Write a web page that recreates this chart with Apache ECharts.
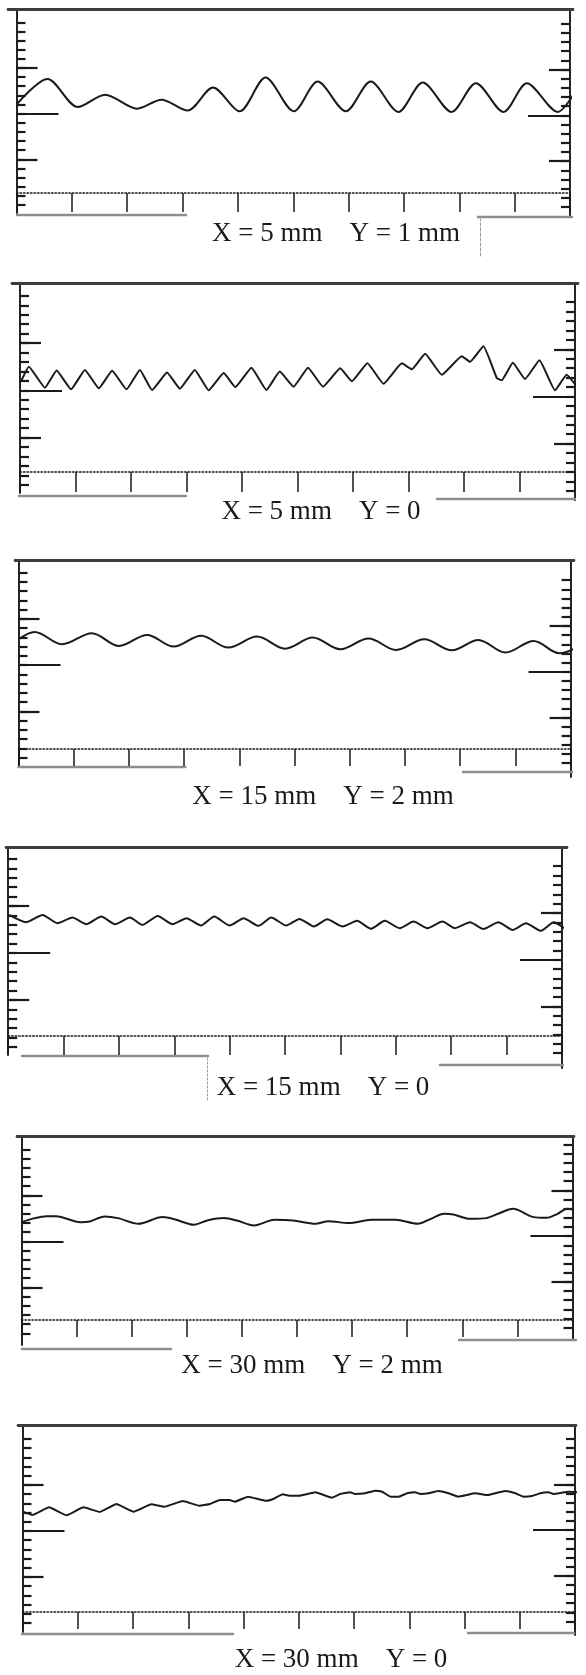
<!DOCTYPE html>
<html>
<head>
<meta charset="utf-8">
<script src="https://cdn.jsdelivr.net/npm/echarts@6/dist/echarts.min.js"></script>
<style>
html,body{margin:0;padding:0;background:#ffffff;}
#chart{width:586px;height:1675px;}
</style>
</head>
<body>
<div id="chart"></div>
<script>
// ---------------- data ----------------
// x in chart divisions (0..10 between the two frame lines), y in small-tick units (0 = long middle tick)
const labels = [
  "X = 5 mm    Y = 1 mm",
  "X = 5 mm    Y = 0",
  "X = 15 mm    Y = 2 mm",
  "X = 15 mm    Y = 0",
  "X = 30 mm    Y = 2 mm",
  "X = 30 mm    Y = 0"
];
const yTicks = [-10,-9,-8,-7,-6,-5,-4,-3,-2,-1,0,1,2,3,4,5,6,7,8,9,10];
const xTicks = [0,1,2,3,4,5,6,7,8,9,10];

const prof1X = [0,0.56,1.11,1.60,2.18,2.62,3.09,3.55,4.03,4.50,5.01,5.44,5.95,6.40,6.90,7.34,7.86,8.30,8.80,9.22,9.78,10.08];
const prof1Y = [0.98,3.80,0.72,2.07,0.54,1.52,0.33,2.86,0.25,3.95,0.25,3.51,0.25,3.51,0.18,3.41,0.18,3.33,0.18,3.33,0.18,2.25];

const prof2X = [0.02,0.16,0.45,0.66,0.92,1.17,1.42,1.66,1.92,2.16,2.38,2.65,2.88,3.15,3.40,3.67,3.88,4.17,4.44,4.68,4.93,5.19,5.46,5.77,5.98,6.26,6.55,6.88,7.06,7.30,7.60,7.96,8.11,8.35,8.59,8.68,8.88,9.10,9.36,9.64,9.85,10.06];
const prof2Y = [0.96,2.50,0.28,2.09,0.10,2.16,0.21,2.06,0.10,2.16,0.03,1.88,0.17,2.16,0.00,1.82,0.34,2.39,0.03,1.98,0.38,2.39,0.38,2.33,0.96,2.85,0.69,2.85,2.23,3.87,1.64,3.60,3.01,4.66,1.31,1.06,2.91,1.20,3.19,0.00,1.64,0.17];

const prof3X = [0.02,0.29,0.79,1.33,1.82,2.33,2.81,3.31,3.80,4.32,4.83,5.33,5.83,6.34,6.84,7.35,7.85,8.33,8.82,9.33,9.80,10.07];
const prof3Y = [2.86,3.58,2.24,3.44,2.06,3.25,1.99,3.15,1.88,3.07,1.77,2.97,1.70,2.86,1.63,2.78,1.59,2.71,1.34,2.60,1.27,1.77];

const prof4X = [0.02,0.32,0.62,0.89,1.16,1.41,1.68,1.93,2.20,2.42,2.70,2.97,3.22,3.48,3.72,4.00,4.25,4.52,4.75,5.02,5.26,5.52,5.76,6.04,6.30,6.55,6.80,7.07,7.32,7.57,7.84,8.07,8.34,8.58,8.85,9.11,9.35,9.62,9.85,10.04];
const prof4Y = [4.05,3.27,4.05,3.17,3.77,3.06,3.87,3.06,3.77,2.99,3.94,3.06,3.70,2.92,3.87,2.92,3.70,2.89,3.77,2.92,3.63,2.82,3.59,2.82,3.42,2.57,3.42,2.64,3.35,2.64,3.35,2.64,3.27,2.54,3.27,2.46,3.17,2.36,3.27,2.64];

const prof5X = [0,0.19,0.46,0.63,1.07,1.24,1.51,1.75,2.12,2.56,2.79,3.13,3.37,3.67,3.91,4.22,4.59,4.93,5.33,5.57,5.94,6.35,6.79,7.19,7.43,7.67,7.84,8.14,8.44,8.65,8.92,9.29,9.53,9.73,9.90,10.03];
const prof5Y = [2.09,2.45,2.74,2.74,2.09,2.17,2.71,2.53,1.91,2.64,2.38,1.81,2.27,2.53,2.27,1.73,2.35,2.27,1.91,2.20,1.99,2.35,2.35,1.91,2.45,3.00,2.92,2.45,2.53,3.00,3.54,2.64,2.56,3.00,3.54,3.43];

const prof6X = [0.01,0.18,0.48,0.80,1.10,1.40,1.70,2.01,2.33,2.57,2.90,3.20,3.39,3.57,3.75,3.84,4.08,4.41,4.53,4.71,4.83,5.01,5.30,5.60,5.75,5.93,6.02,6.20,6.38,6.51,6.66,6.81,6.96,7.11,7.20,7.35,7.53,7.71,7.89,8.04,8.19,8.43,8.59,8.74,8.92,9.07,9.22,9.37,9.52,9.61,9.76,9.88,10.06];
const prof6Y = [2.10,1.74,2.58,1.71,2.58,2.07,2.93,2.10,2.90,2.64,3.26,2.75,2.93,3.37,3.37,3.18,3.73,3.29,3.45,3.99,3.84,3.84,4.21,3.62,4.02,4.21,4.02,4.10,4.38,4.27,3.73,3.73,4.10,4.21,4.02,4.10,4.35,4.10,3.73,3.91,4.10,3.91,4.16,4.35,4.10,3.73,3.80,4.10,4.21,4.02,4.16,4.27,4.21];

const profilesX = [prof1X, prof2X, prof3X, prof4X, prof5X, prof6X];
const profilesY = [prof1Y, prof2Y, prof3Y, prof4Y, prof5Y, prof6Y];

// ---------------- layout (pixels) ----------------
const panels = [
  {L:16.5, R:570,   T:9,    topX:[8,573],   lTop:22.3,   lH:182.6, rTop:23.6,   rH:183.4, lBot:213,  rBot:217,  dotY:193,  dotLen:19, grayL:[17,186,215],    grayR:[478,572,217],   label:[336,234],  smooth:0.3},
  {L:20,   R:575,   T:283,  topX:[12,578],  lTop:295.8,  lH:189,   rTop:302.2,  rH:188.6, lBot:493,  rBot:500,  dotY:472,  dotLen:20, grayL:[19,186,496],    grayR:[437,575,499],   label:[321,512],  smooth:0.12},
  {L:18.5, R:570.6, T:560,  topX:[15,574],  lTop:572.5,  lH:185,   rTop:580.2,  rH:183,   lBot:765,  rBot:777,  dotY:749,  dotLen:17, grayL:[18.5,186,767],  grayR:[463,572,772],   label:[323,797],  smooth:0.35},
  {L:8.2,  R:562,   T:847,  topX:[6,567],   lTop:859,    lH:188,   rTop:866.2,  rH:187,   lBot:1055, rBot:1068, dotY:1036, dotLen:19, grayL:[22,208,1056],   grayR:[440,563,1065],  label:[323,1088], smooth:0.2},
  {L:21.5, R:572.5, T:1136, topX:[17,574],  lTop:1149.4, lH:184,   rTop:1144.6, rH:183,   lBot:1345, rBot:1340, dotY:1320, dotLen:17, grayL:[22,171,1349],   grayR:[459,576,1340],  label:[312,1366], smooth:0.3},
  {L:22.5, R:575,   T:1425, topX:[18,576],  lTop:1439,   lH:184,   rTop:1438.5, rH:183,   lBot:1632, rBot:1635, dotY:1612, dotLen:17, grayL:[22,234,1634],   grayR:[468,574,1633],  label:[341,1660], smooth:0.1}
];
const strays = [
  {x:480, y1:219, y2:256, color:'#9a9a9a', type:[3,2]},
  {x:207, y1:1057, y2:1100, color:'#9a9a9a', type:[2,2]}
];

// ---------------- build ----------------
const INK = '#1a1a1a';
const option = {animation:false, backgroundColor:'#ffffff', grid:[], xAxis:[], yAxis:[], series:[], graphic:[]};
function grid(left, top, width, height){
  option.grid.push({left:left, top:top, width:width, height:height, containLabel:false, show:false});
  return option.grid.length - 1;
}
function addX(ax){ option.xAxis.push(ax); return option.xAxis.length - 1; }
function addY(ax){ option.yAxis.push(ax); return option.yAxis.length - 1; }
function hidden(gi){ return {type:'value', gridIndex:gi, show:false, min:0, max:1}; }
function lineAxis(gi, pos, style){
  return {type:'value', gridIndex:gi, position:pos, min:0, max:1,
    axisLine:{show:true, onZero:false, lineStyle:style},
    axisTick:{show:false}, axisLabel:{show:false}, splitLine:{show:false}};
}
function tickAxis(gi, pos, len, keep){
  return {type:'category', gridIndex:gi, position:pos, data:yTicks.map(String), boundaryGap:false,
    axisLine:{show:false, onZero:false}, axisLabel:{show:false}, splitLine:{show:false},
    axisTick:{show:true, inside:true, length:len, interval:keep, lineStyle:{color:INK, width:2.2}}};
}
const isMid = function(i){ return i === 5 || i === 15; };
const isCenter = function(i){ return i === 10; };

panels.forEach(function(p, k){
  const W = p.R - p.L;
  // data grid + left ticks
  const gm = grid(p.L, p.lTop, W, p.lH);
  const xi = addX({type:'value', gridIndex:gm, show:false, min:0, max:10});
  const yi = addY({type:'value', gridIndex:gm, show:false, min:-10, max:10});
  addY(tickAxis(gm, 'left', 9, 0));
  addY(tickAxis(gm, 'left', 21, isMid));
  addY(tickAxis(gm, 'left', 42, isCenter));
  const xs = profilesX[k], ys = profilesY[k];
  option.series.push({
    type:'line', xAxisIndex:xi, yAxisIndex:yi,
    data: xs.map(function(x, i){ return [x, ys[i]]; }),
    smooth:p.smooth, showSymbol:false, symbol:'none', clip:false, silent:true,
    lineStyle:{color:INK, width:2}
  });
  // right ticks
  const gr = grid(p.L, p.rTop, W, p.rH);
  addX(hidden(gr));
  addY(tickAxis(gr, 'right', 9, 0));
  addY(tickAxis(gr, 'right', 21, isMid));
  addY(tickAxis(gr, 'right', 42, isCenter));
  // left frame line
  const gl = grid(p.L, p.T, W, p.lBot - p.T);
  addX(hidden(gl));
  addY(lineAxis(gl, 'left', {color:INK, width:1.9}));
  // right frame line
  const grv = grid(p.L, p.T, W, p.rBot - p.T);
  addX(hidden(grv));
  addY(lineAxis(grv, 'right', {color:INK, width:1.9}));
  // top line
  const gt = grid(p.topX[0], p.T, p.topX[1] - p.topX[0], 2);
  addY(hidden(gt));
  addX(lineAxis(gt, 'top', {color:'#3c3c3c', width:2.8, type:[6,1]}));
  // bottom dotted line with division ticks
  const gb = grid(p.L, p.dotY, W, p.dotLen);
  addY(hidden(gb));
  addX({type:'category', gridIndex:gb, position:'top', data:xTicks.map(String), boundaryGap:false,
    axisLine:{show:true, onZero:false, lineStyle:{color:INK, width:1.5, type:[1.5,2]}},
    axisTick:{show:true, inside:true, length:p.dotLen, interval:0, lineStyle:{color:INK, width:1.5}},
    axisLabel:{show:false}, splitLine:{show:false}});
  // grey paste-up edges below the frame
  [p.grayL, p.grayR].forEach(function(g){
    const gg = grid(g[0], g[2], g[1] - g[0], 2);
    addY(hidden(gg));
    addX(lineAxis(gg, 'top', {color:'#8e8e8e', width:2.4, type:[3,1]}));
  });
  // caption
  option.graphic.push({type:'text', x:p.label[0], y:p.label[1], silent:true,
    style:{text:labels[k], font:'27px "Liberation Serif", "Times New Roman", serif', fill:INK,
      align:'center', verticalAlign:'middle', textAlign:'center', textVerticalAlign:'middle'}});
});

strays.forEach(function(s){
  const gs = grid(s.x, s.y1, 2, s.y2 - s.y1);
  addX(hidden(gs));
  addY(lineAxis(gs, 'left', {color:s.color, width:1, type:s.type}));
});

const chart = echarts.init(document.getElementById('chart'), null, {renderer:'canvas', width:586, height:1675});
chart.setOption(option);
</script>
</body>
</html>
